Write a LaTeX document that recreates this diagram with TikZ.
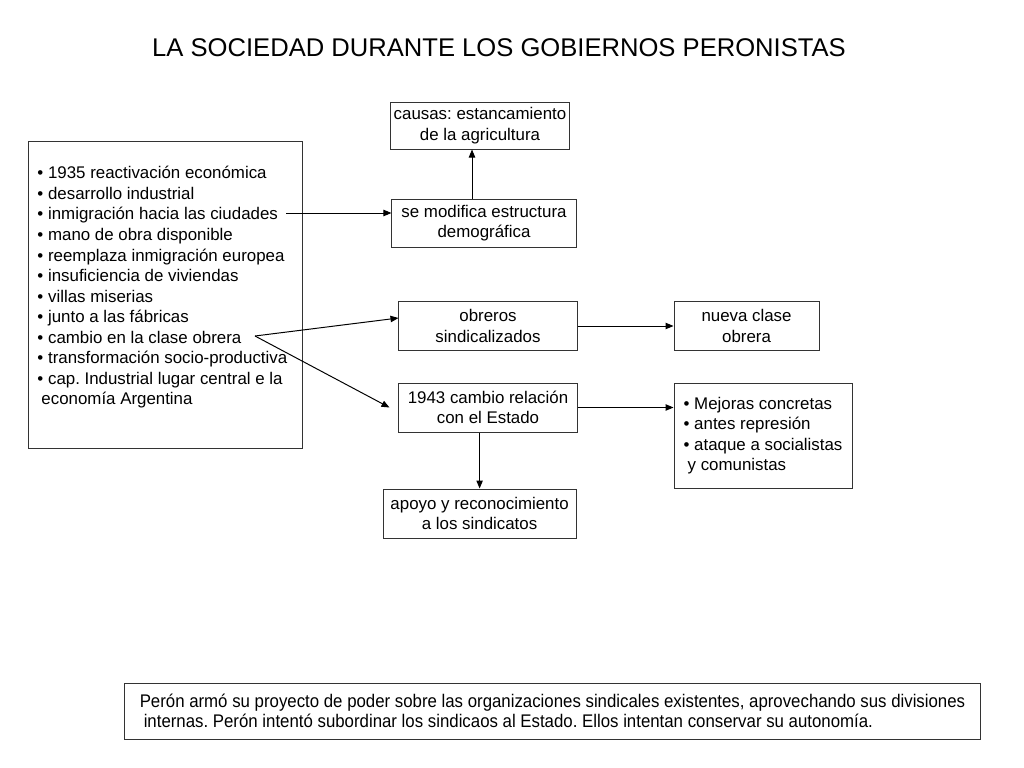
\documentclass[tikz,border=0pt]{standalone}
\usepackage{fontspec}
\setmainfont{Liberation Sans}
\newfontfamily\narrowfont{Liberation Sans}[FakeStretch=0.92]
\usepackage{tikz}
\usetikzlibrary{arrows.meta, positioning, calc}
\usepackage{xcolor}
\frenchspacing
\tikzset{
  box/.style={
    rectangle, draw=black!80, line width=0.7pt,
    fill=white, inner sep=0pt,
    minimum width=4.45cm, minimum height=1.2cm,
    align=center, font=\fontsize{12}{14.6}\selectfont
  },
  listbox/.style={
    rectangle, draw=black!80, line width=0.7pt,
    fill=white, inner xsep=0.225cm, inner ysep=0.625cm,
    align=left, font=\fontsize{12}{14.6}\selectfont
  },
  note/.style={
    rectangle, draw=black!80, line width=0.7pt,
    fill=white, inner sep=0pt,
    minimum width=21.375cm, minimum height=1.4cm,
    align=left, font=\narrowfont\fontsize{13}{14.4}\selectfont
  },
  heading/.style={font=\fontsize{18.2}{20}\selectfont, inner sep=0pt},
  arrow/.style={-{Triangle[length=2mm, width=1.6mm]}, line width=0.7pt, draw=black}
}

\begin{document}
\begin{tikzpicture}[x=0.025cm, y=-0.025cm]
  \useasboundingbox (0,0) rectangle (1024,768);

  \node[heading] (title) at (499,48) {LA SOCIEDAD DURANTE LOS GOBIERNOS PERONISTAS};

  \node[listbox, anchor=north west] (lista) at (28,141)
    {\parbox[t][6.425cm][t]{6.4cm}{%
      • 1935 reactivación económica\\
      • desarrollo industrial\\
      • inmigración hacia las ciudades\\
      • mano de obra disponible\\
      • reemplaza inmigración europea\\
      • insuficiencia de viviendas\\
      • villas miserias\\
      • junto a las fábricas\\
      • cambio en la clase obrera\\
      • transformación socio-productiva\\
      • cap. Industrial lugar central e la\\
      \hspace*{0.1cm}economía Argentina}};
  \coordinate (ciudades) at (286,213);
  \coordinate (clase) at (255,336);

  \node[box, minimum width=4.45cm, minimum height=1.175cm] (causas) at (480,125.5)
    {causas: estancamiento\\de la agricultura};
  \node[box, minimum width=4.6cm] (demo) at (484,223)
    {se modifica estructura\\demográfica};

  \node[box, minimum height=1.225cm] (estado) at (488,407.5)
    {1943 cambio relación\\con el Estado};
  \node[box, above=0.8cm of estado] (obreros) {obreros\\sindicalizados};
  \node[box, minimum width=3.625cm, right=2.4cm of obreros] (nueva) {nueva clase\\obrera};
  \node[box, minimum height=2.625cm, align=left, right=2.4cm of estado.north east, anchor=north west]
    (mejoras) {• Mejoras concretas\\• antes represión\\• ataque a socialistas\\\hspace*{0.1cm}y comunistas};
  \node[box, minimum width=4.825cm, minimum height=1.225cm, below=1.4cm of estado, xshift=-0.21cm]
    (apoyo) {apoyo y reconocimiento\\a los sindicatos};

  \node[note] (nota) at (552.5,711)
    {Perón armó su proyecto de poder sobre las organizaciones sindicales existentes, aprovechando sus divisiones\\
     \hspace*{0.1cm}internas. Perón intentó subordinar los sindicaos al Estado. Ellos intentan conservar su autonomía.};

  \draw[arrow] (ciudades) -- (ciudades -| demo.west);
  \draw[arrow] ([xshift=-0.3cm]demo.north) -- ([xshift=-0.3cm]demo.north |- causas.south);
  \draw[arrow] (clase) -- ([yshift=0.2cm]obreros.west);
  \draw[arrow] (clase) -- ([xshift=-0.225cm]estado.west);
  \draw[arrow] (obreros) -- (nueva);
  \draw[arrow] (estado.east) -- (estado.east -| mejoras.west);
  \draw[arrow] (estado.south -| apoyo.north) -- (apoyo.north);
\end{tikzpicture}
\end{document}
